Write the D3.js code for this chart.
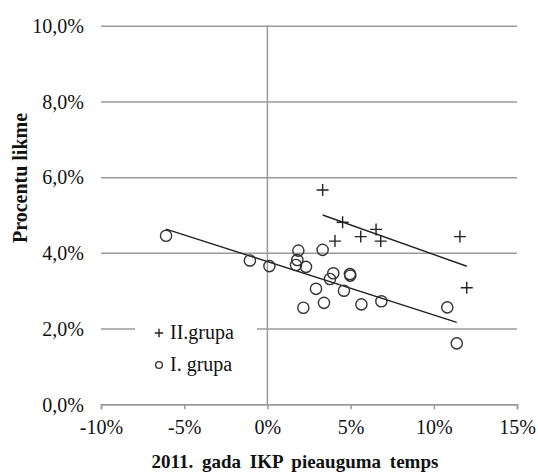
<!DOCTYPE html>
<html>
<head>
<meta charset="utf-8">
<script src="https://cdn.jsdelivr.net/npm/d3@7"></script>
<style>
    body { margin: 0; background: #fff; }
</style>
</head>
<body>
<script>

// II. grupa (crosses): x = 2011 GDP growth %, y = interest rate %
const grupa2X = [3.32, 4.52, 4.06, 5.61, 6.53, 6.81, 11.57, 11.98]
const grupa2Y = [5.66, 4.81, 4.31, 4.43, 4.62, 4.31, 4.43, 3.08]

// I. grupa (circles)
const grupa1X = [-6.09, -1.05, 0.12, 1.72, 1.80, 1.86, 2.32, 3.32, 3.96, 3.76,
    4.96, 4.98, 2.92, 4.60, 2.16, 3.40, 5.65, 6.85, 10.81, 11.38]
const grupa1Y = [4.45, 3.80, 3.65, 3.68, 3.81, 4.06, 3.63, 4.08, 3.46, 3.31,
    3.44, 3.40, 3.05, 3.00, 2.55, 2.68, 2.64, 2.72, 2.56, 1.61]

const xTicks = [-10, -5, 0, 5, 10, 15]
const yTicks = [0, 2, 4, 6, 8, 10]
const legendNames = ['II.grupa', 'I. grupa']

const width = 538, height = 476
const serif = '"Liberation Serif", "Times New Roman", Times, serif'

const svg = d3.select('body').append('svg')
    .attr('width', width)
    .attr('height', height)
    .style('font-family', serif)

const x = d3.scaleLinear().domain([-10, 15]).range([101, 517])
const y = d3.scaleLinear().domain([0, 10]).range([404.3, 25.7])

const lv = d3.formatLocale({decimal: ',', thousands: ' ', grouping: [3], currency: ['', '']})
const fmtY = d => lv.format('.1f')(d) + '%'
const fmtX = d => d + '%'

const grey = '#9a9a9a'

// horizontal gridlines + y tick labels
const yAxis = svg.append('g')
    .attr('transform', `translate(${x(-10)},0)`)
    .call(d3.axisLeft(y).tickValues(yTicks).tickFormat(fmtY)
        .tickSize(-(x(15) - x(-10))).tickPadding(17))
    .attr('font-family', null)
    .attr('font-size', null)
yAxis.select('.domain').remove()
yAxis.selectAll('line').attr('stroke', grey).attr('stroke-width', 1.5)
yAxis.selectAll('text')
    .style('font-family', serif)
    .style('font-size', '20px')
    .attr('dy', '0.34em')
    .attr('fill', '#111')

// vertical line at 0%
svg.append('line')
    .attr('x1', x(0)).attr('x2', x(0))
    .attr('y1', y(10)).attr('y2', y(0))
    .attr('stroke', grey).attr('stroke-width', 1.5)

// x axis
const xAxis = svg.append('g')
    .attr('transform', `translate(0,${y(0)})`)
    .call(d3.axisBottom(x).tickValues(xTicks).tickFormat(fmtX)
        .tickSize(5).tickSizeOuter(5).tickPadding(11))
    .attr('font-family', null)
    .attr('font-size', null)
xAxis.select('.domain').attr('stroke', grey).attr('stroke-width', 1.5)
xAxis.selectAll('line').attr('stroke', grey).attr('stroke-width', 1.5)
xAxis.selectAll('text')
    .style('font-family', serif)
    .style('font-size', '20px')
    .attr('fill', '#111')

// legend box hides the gridline behind it
svg.append('rect')
    .attr('x', 135).attr('y', 316)
    .attr('width', 122).attr('height', 66)
    .attr('fill', '#fff')

// least squares trendline
function trend(xs, ys) {
    const mx = d3.mean(xs), my = d3.mean(ys)
    let sxy = 0, sxx = 0
    xs.forEach((v, i) => {
        sxy += (v - mx) * (ys[i] - my)
        sxx += (v - mx) * (v - mx)
    })
    const b = sxy / sxx
    const a = my - b * mx
    const x0 = d3.min(xs), x1 = d3.max(xs)
    return [[x0, a + b * x0], [x1, a + b * x1]]
}

const line = d3.line().x(d => x(d[0])).y(d => y(d[1]))

svg.selectAll('.trend')
    .data([trend(grupa1X, grupa1Y), trend(grupa2X, grupa2Y)])
    .join('path')
    .attr('class', 'trend')
    .attr('d', line)
    .attr('fill', 'none')
    .attr('stroke', '#222')
    .attr('stroke-width', 1.4)

const pts1 = grupa1X.map((v, i) => ({x: v, y: grupa1Y[i]}))
const pts2 = grupa2X.map((v, i) => ({x: v, y: grupa2Y[i]}))

svg.selectAll('.circ')
    .data(pts1)
    .join('circle')
    .attr('class', 'circ')
    .attr('cx', d => x(d.x))
    .attr('cy', d => y(d.y))
    .attr('r', 5.6)
    .attr('fill', 'none')
    .attr('stroke', '#333')
    .attr('stroke-width', 1.4)

function plusPath(s) {
    return `M${-s},0H${s}M0,${-s}V${s}`
}

svg.selectAll('.plus')
    .data(pts2)
    .join('path')
    .attr('class', 'plus')
    .attr('transform', d => `translate(${x(d.x)},${y(d.y)})`)
    .attr('d', plusPath(6))
    .attr('stroke', '#222')
    .attr('stroke-width', 1.4)

// legend
const legend = svg.selectAll('.legend')
    .data(legendNames)
    .join('g')
    .attr('class', 'legend')
    .attr('transform', (d, i) => `translate(159,${333 + i * 32})`)

legend.filter((d, i) => i == 0).append('path')
    .attr('d', plusPath(4.2))
    .attr('stroke', '#222')
    .attr('stroke-width', 1.4)

legend.filter((d, i) => i == 1).append('circle')
    .attr('r', 3.4)
    .attr('fill', 'none')
    .attr('stroke', '#333')
    .attr('stroke-width', 1.3)

legend.append('text')
    .attr('x', 11)
    .attr('y', 6)
    .attr('fill', '#111')
    .style('font-size', '20px')
    .text(d => d)

// axis titles
svg.append('text')
    .attr('x', 295)
    .attr('y', 468)
    .attr('text-anchor', 'middle')
    .attr('fill', '#111')
    .style('font-size', '19px')
    .style('font-weight', 'bold')
    .style('word-spacing', '4px')
    .text('2011. gada IKP pieauguma temps')

svg.append('text')
    .attr('transform', 'translate(27,178) rotate(-90)')
    .attr('text-anchor', 'middle')
    .attr('fill', '#111')
    .style('font-size', '20px')
    .style('font-weight', 'bold')
    .text('Procentu likme')

</script>
</body>
</html>
